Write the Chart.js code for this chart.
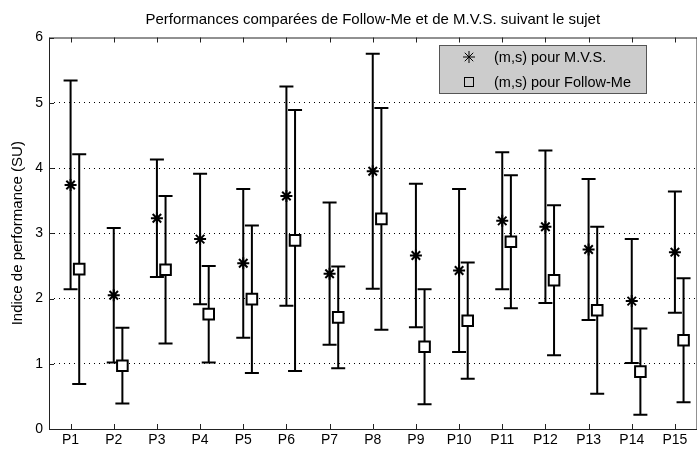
<!DOCTYPE html>
<html>
<head>
<meta charset="utf-8">
<script src="https://cdn.jsdelivr.net/npm/chart.js@4"></script>
<style>
  body { margin: 0; overflow: hidden; background: #fff; }
  #wrap { width: 697px; height: 450px; overflow: hidden; }
</style>
</head>
<body>
<div id="wrap"><canvas id="chart" width="706" height="450"></canvas></div>
<script>
const subjects = ["P1", "P2", "P3", "P4", "P5", "P6", "P7", "P8", "P9", "P10", "P11", "P12", "P13", "P14", "P15"];
const mvsMean = [3.74, 2.05, 3.23, 2.91, 2.54, 3.57, 2.38, 3.95, 2.66, 2.43, 3.19, 3.10, 2.75, 1.96, 2.71];
const mvsStd = [1.60, 1.03, 0.90, 1.00, 1.14, 1.68, 1.09, 1.80, 1.10, 1.25, 1.05, 1.17, 1.08, 0.95, 0.93];
const fmMean = [2.45, 0.97, 2.44, 1.76, 1.99, 2.89, 1.71, 3.22, 1.26, 1.66, 2.87, 2.28, 1.82, 0.88, 1.36];
const fmStd = [1.76, 0.58, 1.13, 0.74, 1.13, 2.00, 0.78, 1.70, 0.88, 0.89, 1.02, 1.15, 1.28, 0.66, 0.95];
const yTicks = [0, 1, 2, 3, 4, 5, 6];
const fmShift = 0.2;

const FONT = "Arial, 'Liberation Sans', sans-serif";

// vertical bars with caps, drawn under the markers
const errorBars = {
  id: "errorBars",
  beforeDatasetsDraw(chart) {
    const ctx = chart.ctx;
    const y = chart.scales.y;
    chart.data.datasets.forEach((ds, di) => {
      const meta = chart.getDatasetMeta(di);
      meta.data.forEach((pt, i) => {
        const m = ds.data[i].y;
        const s = ds.std[i];
        const top = y.getPixelForValue(m + s);
        const bot = y.getPixelForValue(m - s);
        ctx.save();
        ctx.strokeStyle = "#000";
        ctx.lineWidth = 2;
        ctx.beginPath();
        ctx.moveTo(pt.x, top);
        ctx.lineTo(pt.x, bot);
        ctx.moveTo(pt.x - 7, top);
        ctx.lineTo(pt.x + 7, top);
        ctx.moveTo(pt.x - 7, bot);
        ctx.lineTo(pt.x + 7, bot);
        ctx.stroke();
        ctx.restore();
      });
    });
  },
};

// matlab style box, inward ticks and the legend
const frame = {
  id: "frame",
  afterDraw(chart) {
    const ctx = chart.ctx;
    const a = chart.chartArea;
    const x = chart.scales.x;
    const y = chart.scales.y;
    ctx.save();
    ctx.strokeStyle = "#222";
    ctx.lineWidth = 1;
    ctx.beginPath();
    ctx.moveTo(a.left + 0.5, a.top + 0.5);
    ctx.lineTo(a.right + 0.5, a.top + 0.5);
    ctx.moveTo(a.left + 0.5, a.top);
    ctx.lineTo(a.left + 0.5, a.bottom + 0.5);
    ctx.lineTo(a.right + 0.5, a.bottom + 0.5);
    ctx.lineTo(a.right + 0.5, a.top);
    subjects.forEach((s, i) => {
      const px = Math.round(x.getPixelForValue(i + 1)) + 0.5;
      ctx.moveTo(px, a.bottom);
      ctx.lineTo(px, a.bottom - 5);
      ctx.moveTo(px, a.top);
      ctx.lineTo(px, a.top + 5);
    });
    yTicks.forEach((v) => {
      const py = Math.round(y.getPixelForValue(v)) + 0.5;
      ctx.moveTo(a.left, py);
      ctx.lineTo(a.left + 5, py);
    });
    ctx.stroke();

    // legend
    const lx = 439, ly = 45, lw = 207, lh = 48;
    ctx.fillStyle = "#cccccc";
    ctx.fillRect(lx, ly, lw, lh);
    ctx.strokeStyle = "#555";
    ctx.strokeRect(lx + 0.5, ly + 0.5, lw, lh);
    ctx.font = "14.5px " + FONT;
    ctx.fillStyle = "#000";
    ctx.textBaseline = "middle";
    chart.data.datasets.forEach((ds, di) => {
      const cy = ly + 12 + di * 25;
      ctx.strokeStyle = "#000";
      ctx.lineWidth = 1;
      if (ds.pointStyle === "star") {
        ctx.beginPath();
        for (let k = 0; k < 4; k++) {
          const ang = (k * Math.PI) / 4;
          ctx.moveTo(469 - 6 * Math.cos(ang), cy - 6 * Math.sin(ang));
          ctx.lineTo(469 + 6 * Math.cos(ang), cy + 6 * Math.sin(ang));
        }
        ctx.stroke();
      } else {
        ctx.strokeRect(464.5, cy - 4.5, 9, 9);
      }
      ctx.fillText(ds.label, 494, cy + 1);
    });
    ctx.restore();
  },
};

new Chart(document.getElementById("chart").getContext("2d"), {
  type: "scatter",
  data: {
    datasets: [
      {
        label: "(m,s) pour M.V.S.",
        data: mvsMean.map((v, i) => ({ x: i + 1, y: v })),
        std: mvsStd,
        pointStyle: "star",
        pointRadius: 6,
        borderColor: "#000",
        backgroundColor: "#000",
        borderWidth: 2,
      },
      {
        label: "(m,s) pour Follow-Me",
        data: fmMean.map((v, i) => ({ x: i + 1 + fmShift, y: v })),
        std: fmStd,
        pointStyle: "rect",
        pointRadius: 7.5,
        borderColor: "#000",
        backgroundColor: "#fff",
        borderWidth: 2,
      },
    ],
  },
  options: {
    responsive: false,
    animation: false,
    layout: { padding: { left: 0, right: 2, top: 0, bottom: 0 } },
    plugins: {
      legend: { display: false },
      tooltip: { enabled: false },
      title: {
        display: true,
        fullSize: false,
        text: "Performances comparées de Follow-Me et de M.V.S. suivant le sujet",
        color: "#000",
        font: { family: FONT, size: 15, weight: "normal" },
        padding: { top: 11, bottom: 8.5 },
      },
    },
    scales: {
      x: {
        type: "linear",
        min: 0.5,
        max: 15.5,
        afterBuildTicks: (scale) => {
          scale.ticks = subjects.map((s, i) => ({ value: i + 1 }));
        },
        afterFit: (scale) => {
          scale.height = 21;
          scale.paddingLeft = 0;
          scale.paddingRight = 0;
        },
        ticks: {
          callback: (v) => subjects[v - 1],
          color: "#000",
          font: { family: FONT, size: 14 },
          padding: 3,
          maxRotation: 0,
          autoSkip: false,
        },
        grid: { display: false, drawTicks: false },
        border: { display: false },
      },
      y: {
        min: 0,
        max: 6,
        afterBuildTicks: (scale) => {
          scale.ticks = yTicks.map((v) => ({ value: v }));
        },
        afterFit: (scale) => {
          scale.width = 49;
          scale.paddingTop = 0;
          scale.paddingBottom = 0;
        },
        ticks: {
          color: "#000",
          font: { family: FONT, size: 14 },
          padding: 6,
        },
        grid: {
          drawTicks: false,
          color: (c) => (c.tick && c.tick.value > 0 && c.tick.value < 6 ? "#000" : "rgba(0,0,0,0)"),
          lineWidth: 1,
        },
        border: { display: false, dash: [1, 4] },
        title: {
          display: true,
          text: "Indice de performance (SU)",
          color: "#000",
          font: { family: FONT, size: 15 },
          padding: { top: 9, bottom: 0 },
        },
      },
    },
  },
  plugins: [errorBars, frame],
});
</script>
</body>
</html>
